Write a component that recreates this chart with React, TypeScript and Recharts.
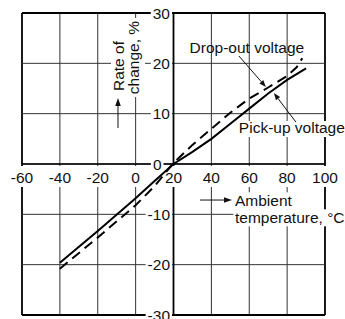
import { Line, LineChart, ReferenceDot, ReferenceLine, XAxis, YAxis } from "recharts";

const xTicks = [-60, -40, -20, 0, 20, 40, 60, 80, 100];
const yTicks = [30, 20, 10, 0, -10, -20, -30];

const pickUpTemps = [-40, -20, 0, 10, 20, 30, 40, 50, 60, 70, 80, 90];
const pickUpValues = [-19.6, -13.3, -6.8, -3.4, 0, 2.4, 5, 8, 11, 14, 16.7, 19];

const dropOutTemps = [-40, -20, 0, 10, 20, 30, 40, 50, 60, 70, 80, 85, 88];
const dropOutValues = [-20.8, -14.6, -8.2, -4.4, 0.2, 3.8, 7, 10.2, 13, 15.2, 17.5, 19.2, 21];

const pickUp = pickUpTemps.map((t, i) => ({ t, v: pickUpValues[i] }));
const dropOut = dropOutTemps.map((t, i) => ({ t, v: dropOutValues[i] }));

const font = "'Liberation Sans', Arial, Helvetica, sans-serif";
const fs = 15.5;
const ink = "#111";

// rough Arial width, good enough for the white boxes behind labels
const textWidth = (s: string) =>
  s.split("").reduce((w, c) => w + (c === "-" ? 0.333 : 0.556), 0) * fs;

function Arrow({ x1, y1, x2, y2, len = 7, half = 2.6 }: { x1: number; y1: number; x2: number; y2: number; len?: number; half?: number }) {
  const d = Math.hypot(x2 - x1, y2 - y1);
  const ux = (x2 - x1) / d;
  const uy = (y2 - y1) / d;
  const bx = x2 - ux * len;
  const by = y2 - uy * len;
  const pts = `${x2},${y2} ${bx - uy * half},${by + ux * half} ${bx + uy * half},${by - ux * half}`;
  return (
    <g>
      <line x1={x1} y1={y1} x2={bx} y2={by} stroke={ink} strokeWidth={1} />
      <polygon points={pts} fill={ink} />
    </g>
  );
}

function XTickLabel({ cx, cy, value }: { cx: number; cy: number; value: number }) {
  const s = String(value);
  const w = textWidth(s);
  return (
    <g>
      <rect x={cx - w / 2 - 2} y={cy + 2} width={w + 4} height={21} fill="#fff" />
      <text x={cx} y={cy + 19} textAnchor="middle" fontSize={fs} fontFamily={font} fill={ink}>
        {s}
      </text>
    </g>
  );
}

function YTickLabel({ cx, cy, value }: { cx: number; cy: number; value: number }) {
  const s = String(value);
  const w = textWidth(s);
  // the zero label sits a little further left in the original
  const right = cx - (value === 0 ? 12 : 3.5);
  return (
    <g>
      <rect x={right - w - 2} y={cy - 8} width={w + 4} height={16} fill="#fff" />
      <text x={right} y={cy + 5.5} textAnchor="end" fontSize={fs} fontFamily={font} fill={ink}>
        {s}
      </text>
    </g>
  );
}

function YTitle({ cx, cy }: { cx: number; cy: number }) {
  return (
    <g fontSize={fs} fontFamily={font} fill={ink}>
      <rect x={cx - 5.7} y={cy - 45.3} width={34} height={79} fill="#fff" />
      <text transform={`translate(${cx + 7.8},${cy + 2.7}) rotate(-90)`} textAnchor="middle">
        Rate of
      </text>
      <text transform={`translate(${cx + 22.8},${cy - 5.8}) rotate(-90)`} textAnchor="middle">
        change, %
      </text>
      <Arrow x1={cx + 1.3} y1={cy + 64.7} x2={cx + 1.3} y2={cy + 34.7} len={8} half={2.8} />
    </g>
  );
}

function XTitle({ cx, cy }: { cx: number; cy: number }) {
  return (
    <g fontSize={fs} fontFamily={font} fill={ink}>
      <rect x={cx + 22} y={cy - 22} width={textWidth("Ambient") + 6} height={17} fill="#fff" />
      <rect x={cx + 22} y={cy - 5} width={140} height={17} fill="#fff" />
      <Arrow x1={cx - 11.4} y1={cy - 14.3} x2={cx + 20.6} y2={cy - 14.3} len={8} half={2.8} />
      <text x={cx + 23.6} y={cy - 8.3}>Ambient</text>
      <text x={cx + 23.6} y={cy + 8.7}>temperature, °C</text>
    </g>
  );
}

function DropOutNote({ cx, cy }: { cx: number; cy: number }) {
  return (
    <g fontSize={fs} fontFamily={font} fill={ink}>
      <text x={cx - 19} y={cy - 34} textAnchor="middle">Drop-out voltage</text>
      <Arrow x1={cx - 27} y1={cy - 31} x2={cx} y2={cy} />
    </g>
  );
}

function PickUpNote({ cx, cy }: { cx: number; cy: number }) {
  return (
    <g fontSize={fs} fontFamily={font} fill={ink}>
      <rect x={cx - 36} y={cy + 28} width={112} height={16} fill="#fff" />
      <text x={cx - 35} y={cy + 40}>Pick-up voltage</text>
      <Arrow x1={cx + 22} y1={cy + 29} x2={cx} y2={cy} />
    </g>
  );
}

export default function App() {
  return (
    <div style={{ position: "absolute", left: 0, top: 0, background: "#fff" }}>
      <LineChart width={345} height={319} margin={{ top: 13, right: 20, bottom: 4, left: 22 }}>
        <XAxis type="number" dataKey="t" domain={[-60, 100]} ticks={xTicks} hide />
        <YAxis type="number" domain={[-30, 30]} ticks={yTicks} hide />

        {xTicks.map((t) => (
          <ReferenceLine
            key={`gx${t}`}
            x={t}
            zIndex={10}
            stroke={t === -60 || t === 100 ? "#000" : "#333"}
            strokeWidth={t === -60 || t === 100 ? 1.8 : 1}
          />
        ))}
        {yTicks.map((v) => (
          <ReferenceLine
            key={`gy${v}`}
            y={v}
            zIndex={10}
            stroke={v === 30 || v === -30 ? "#000" : "#333"}
            strokeWidth={v === 30 || v === -30 ? 1.8 : 1}
          />
        ))}
        <ReferenceLine y={0} zIndex={11} stroke="#000" strokeWidth={1.5} />
        <ReferenceLine x={20} zIndex={11} stroke="#000" strokeWidth={1.8} />

        {xTicks.map((t) => (
          <ReferenceDot
            key={`lx${t}`}
            x={t}
            y={0}
            r={0}
            zIndex={20}
            shape={(p: any) => <XTickLabel cx={p.cx} cy={p.cy} value={t} />}
          />
        ))}
        {yTicks.map((v) => (
          <ReferenceDot
            key={`ly${v}`}
            x={20}
            y={v}
            r={0}
            zIndex={20}
            shape={(p: any) => <YTickLabel cx={p.cx} cy={p.cy} value={v} />}
          />
        ))}
        <ReferenceDot x={-10} y={20} r={0} zIndex={20} shape={(p: any) => <YTitle cx={p.cx} cy={p.cy} />} />
        <ReferenceDot x={40} y={-10} r={0} zIndex={20} shape={(p: any) => <XTitle cx={p.cx} cy={p.cy} />} />
        <ReferenceDot x={73} y={14.1} r={0} zIndex={20} shape={(p: any) => <PickUpNote cx={p.cx} cy={p.cy} />} />

        <Line
          data={dropOut}
          dataKey="v"
          zIndex={400}
          stroke="#000"
          strokeWidth={2}
          strokeDasharray="10 6"
          dot={false}
          isAnimationActive={false}
        />
        <Line
          data={pickUp}
          dataKey="v"
          zIndex={400}
          stroke="#000"
          strokeWidth={2}
          dot={false}
          isAnimationActive={false}
        />

        <ReferenceDot x={68.8} y={15.3} r={0} zIndex={500} shape={(p: any) => <DropOutNote cx={p.cx} cy={p.cy} />} />
      </LineChart>
    </div>
  );
}
